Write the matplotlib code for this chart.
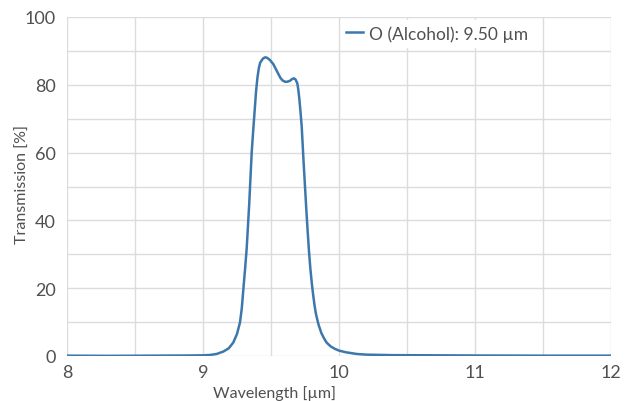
import matplotlib
matplotlib.use("Agg")
import matplotlib.pyplot as plt
from matplotlib.ticker import MultipleLocator

wavelength = [8.0, 8.3, 8.6, 8.9, 9.0, 9.05, 9.10, 9.149, 9.19, 9.223, 9.25, 9.272, 9.285,
              9.297, 9.31, 9.321, 9.34, 9.358, 9.37, 9.38, 9.39, 9.40, 9.41, 9.42, 9.44,
              9.456, 9.47, 9.49, 9.517, 9.535, 9.554, 9.57, 9.585, 9.603, 9.62, 9.64,
              9.655, 9.669, 9.68, 9.693, 9.70, 9.708, 9.717, 9.726, 9.74, 9.75, 9.76,
              9.77, 9.78, 9.79, 9.80, 9.81, 9.82, 9.83, 9.84, 9.85, 9.87, 9.89, 9.91,
              9.94, 9.97, 10.0, 10.05, 10.13, 10.2, 10.4, 10.7, 11.0, 11.5, 12.0]
transmission = [0.1, 0.05, 0.1, 0.15, 0.2, 0.3, 0.6, 1.3, 2.3, 4.0, 6.5, 9.9, 14.0,
                19.8, 26.0, 31.6, 45.0, 60.0, 67.0, 72.5, 78.0, 82.0, 84.8, 86.5, 87.7,
                88.1, 88.0, 87.4, 86.1, 84.7, 83.2, 82.0, 81.3, 80.9, 80.9, 81.2,
                81.7, 81.9, 81.6, 80.5, 78.8, 76.0, 72.0, 67.5, 57.0, 50.0, 43.0,
                36.5, 30.5, 25.5, 21.5, 18.0, 15.0, 12.5, 10.8, 9.2, 6.8, 5.2, 3.9,
                2.8, 2.1, 1.6, 1.1, 0.6, 0.4, 0.25, 0.2, 0.15, 0.1, 0.1]
series_label = "O (Alcohol): 9.50 µm"
x_ticks = [8, 9, 10, 11, 12]
y_ticks = [0, 20, 40, 60, 80, 100]

plt.rcParams['font.family'] = ['Lato', 'DejaVu Sans']
text_color = '#505050'

fig = plt.figure(figsize=(6.37, 4.02), dpi=100)
ax = fig.add_axes([67/637, 45/402, 544/637, 339/402])

ax.plot(wavelength, transmission, color='#3d77ac', lw=1.8, label=series_label, zorder=3,
        solid_joinstyle='round')

ax.set_xlim(8, 12)
ax.set_ylim(0, 100)
ax.set_xticks(x_ticks)
ax.set_yticks(y_ticks)
ax.xaxis.set_minor_locator(MultipleLocator(0.5))
ax.yaxis.set_minor_locator(MultipleLocator(10))
ax.grid(True, which='both', color='#dcdcdc', lw=1.0, zorder=0)
for s in ax.spines.values():
    s.set_visible(False)
ax.tick_params(which='both', length=0, colors=text_color, labelsize=13)
ax.tick_params(axis='x', pad=6)
ax.tick_params(axis='y', pad=8)

ax.set_xlabel("Wavelength [µm]", fontsize=11.5, color=text_color)
ax.xaxis.set_label_coords(0.382, -0.085)
ax.set_ylabel("Transmission [%]", fontsize=11.5, color=text_color)
ax.yaxis.set_label_coords(-0.068, 0.51)

leg = ax.legend(loc='center left', bbox_to_anchor=(0.487, 0.952), frameon=True,
                fontsize=12.5, handlelength=1.0, handletextpad=0.35, borderpad=0.3,
                fancybox=False, edgecolor='white', framealpha=1.0)
for t in leg.get_texts():
    t.set_color(text_color)

fig.savefig("out.png", dpi=100)
